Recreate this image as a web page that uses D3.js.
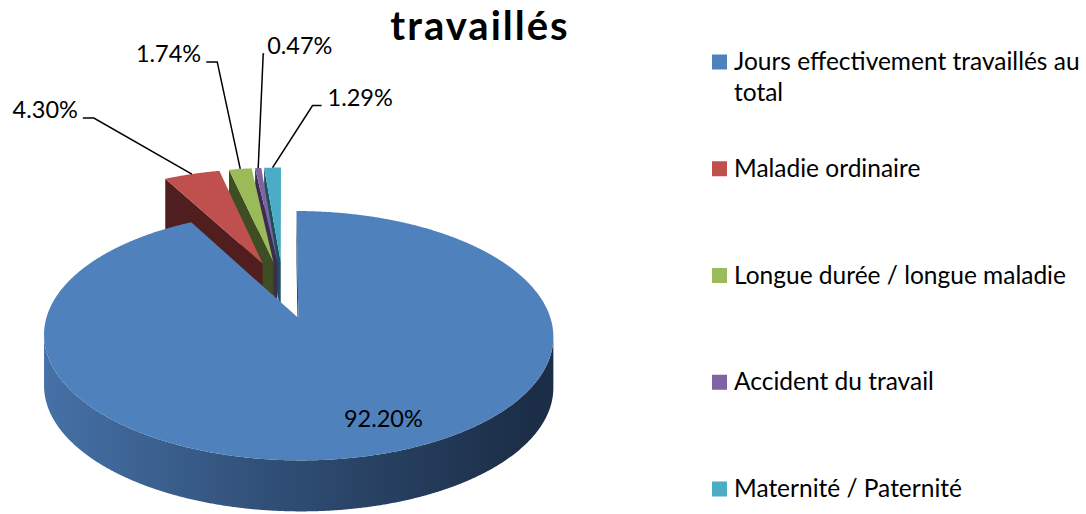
<!DOCTYPE html>
<html>
<head>
<meta charset="utf-8">
<script src="https://cdn.jsdelivr.net/npm/d3@7"></script>
<style>
  body { margin: 0; background: #fff; }
  svg { display: block; font-family: Lato, "Open Sans", sans-serif; }
</style>
</head>
<body>
<div id="main"></div>
<script>
const categories = ["Jours effectivement travaillés au total", "Maladie ordinaire", "Longue durée / longue maladie", "Accident du travail", "Maternité / Paternité"];
const values = [92.20, 4.30, 1.74, 0.47, 1.29];
const titleText = "travaillés";

const topColors = ['#4F81BD', '#C0504D', '#9BBB59', '#8064A2', '#4BACC6'];
const wallColors = ['#1F3552', '#501E1E', '#3E4E22', '#3C2C50', '#1E505F'];

// label placement (layout only): inside label for the big slice, leader lines for the others
const labelLayout = [
  { inside: true, angle: 158, r: 0.79 },
  { elbow: [-98, -56], end: [-109, -56], text: -114, anchor: 'end' },
  { elbow: [-23, -107], end: [-34, -107], text: -39, anchor: 'end' },
  { elbow: [5, -114], end: [6, -114], text: 9, anchor: 'start' },
  { elbow: [40, -62], end: [49, -62], text: 55, anchor: 'start' }
];

const width = 1086;
const height = 514;
const explode = 0.25;
const persp = 0.137;
const depth = 51;

const svg = d3.select('#main')
  .append('svg')
  .attr('width', width)
  .attr('height', height);

const xScale = d3.scaleLinear().domain([-1, 1]).range([283.1 - 243.7, 283.1 + 243.7]);
const yScale = d3.scaleLinear().domain([-1, 1]).range([289.4 + 114.2, 289.4 - 114.2]);

const proj = (x, z, h) => {
  const w = 1 + persp * z;
  return [xScale(x / w), yScale(z / w) + depth * h];
};
const rim = (o, a, h) => proj(o[0] + Math.sin(a), o[1] + Math.cos(a), h);

const grad = svg.append('defs').append('linearGradient')
  .attr('id', 'sideGrad')
  .attr('gradientUnits', 'userSpaceOnUse')
  .attr('x1', xScale(-1)).attr('x2', xScale(1)).attr('y1', 0).attr('y2', 0);
grad.append('stop').attr('offset', '0%').attr('stop-color', '#4672A8');
grad.append('stop').attr('offset', '50%').attr('stop-color', '#2F4D74');
grad.append('stop').attr('offset', '100%').attr('stop-color', '#1C2E47');

const arcs = d3.pie().sort(null).value(d => d)(values);
const line = d3.line();
const step = Math.PI / 720;

const slices = arcs.map((d, i) => {
  const m = (d.startAngle + d.endAngle) / 2;
  const o = [explode * Math.sin(m), explode * Math.cos(m)];
  const n = Math.max(2, Math.ceil((d.endAngle - d.startAngle) / step));
  const angles = d3.range(n + 1).map(k => d.startAngle + (d.endAngle - d.startAngle) * k / n);
  return { d, i, m, o, angles };
});

const pieG = svg.append('g');

// back slices first (right to left), the big front slice last
[4, 3, 2, 1, 0].forEach(idx => {
  const s = slices[idx];
  const o = s.o;
  // outer side (front part only)
  const vis = s.angles.filter(a => (1 / persp + o[1]) * Math.cos(a) + o[0] * Math.sin(a) < -1);
  if (vis.length > 1) {
    const pts = vis.map(a => rim(o, a, 0)).concat(vis.slice().reverse().map(a => rim(o, a, 1)));
    pieG.append('path')
      .attr('d', line(pts) + 'Z')
      .attr('fill', idx === 0 ? 'url(#sideGrad)' : wallColors[idx]);
  }
  // radial walls
  [[s.d.startAngle, 1], [s.d.endAngle, -1]].forEach(([a, sign]) => {
    const q = [proj(o[0], o[1], 0), rim(o, a, 0), rim(o, a, 1), proj(o[0], o[1], 1)];
    if (d3.polygonArea(q) * sign > 0) {
      pieG.append('path').attr('d', line(q) + 'Z').attr('fill', wallColors[idx]);
    }
  });
  // top face
  const top = [proj(o[0], o[1], 0)].concat(s.angles.map(a => rim(o, a, 0)));
  pieG.append('path').attr('d', line(top) + 'Z').attr('fill', topColors[idx]);
});

// data labels
const fmt = v => d3.format('.2f')(v) + '%';
const labelG = svg.append('g').style('font-size', '23.5px').attr('fill', '#000');
slices.forEach((s, i) => {
  const L = labelLayout[i];
  if (L.inside) {
    const a = L.angle * Math.PI / 180;
    const p = proj(s.o[0] + L.r * Math.sin(a), s.o[1] + L.r * Math.cos(a), 0);
    labelG.append('text')
      .attr('x', p[0]).attr('y', p[1])
      .attr('text-anchor', 'middle')
      .attr('dominant-baseline', 'central')
      .text(fmt(values[i]));
  } else {
    const anchor = rim(s.o, s.m, 0);
    const pts = [anchor, [anchor[0] + L.elbow[0], anchor[1] + L.elbow[1]], [anchor[0] + L.end[0], anchor[1] + L.end[1]]];
    labelG.append('path')
      .attr('d', line(pts))
      .attr('fill', 'none')
      .attr('stroke', '#000')
      .attr('stroke-width', 1.5);
    labelG.append('text')
      .attr('x', anchor[0] + L.text)
      .attr('y', anchor[1] + L.end[1])
      .attr('text-anchor', L.anchor)
      .text(fmt(values[i]));
  }
});

// title
svg.append('text')
  .attr('x', 480)
  .attr('y', 40)
  .attr('text-anchor', 'middle')
  .style('font-size', '40px')
  .style('letter-spacing', '2px')
  .style('font-weight', 'bold')
  .text(titleText);

// legend
const legendY = d3.scalePoint().domain(categories).range([62, 489]);
const legend = svg.append('g').style('font-size', '24.5px');
categories.forEach((c, i) => {
  const y = legendY(c);
  legend.append('rect')
    .attr('x', 712).attr('y', y - 7.5)
    .attr('width', 15).attr('height', 15)
    .attr('fill', topColors[i]);
  const t = legend.append('text').attr('x', 734).attr('y', y + 8);
  const words = c.split(' ');
  let lineWords = [];
  let ts = t.append('tspan').attr('x', 734);
  words.forEach(w => {
    lineWords.push(w);
    ts.text(lineWords.join(' '));
    if (ts.node().getComputedTextLength() > 354 && lineWords.length > 1) {
      lineWords.pop();
      ts.text(lineWords.join(' '));
      lineWords = [w];
      ts = t.append('tspan').attr('x', 734).attr('dy', 31).text(w);
    }
  });
});
</script>
</body>
</html>
